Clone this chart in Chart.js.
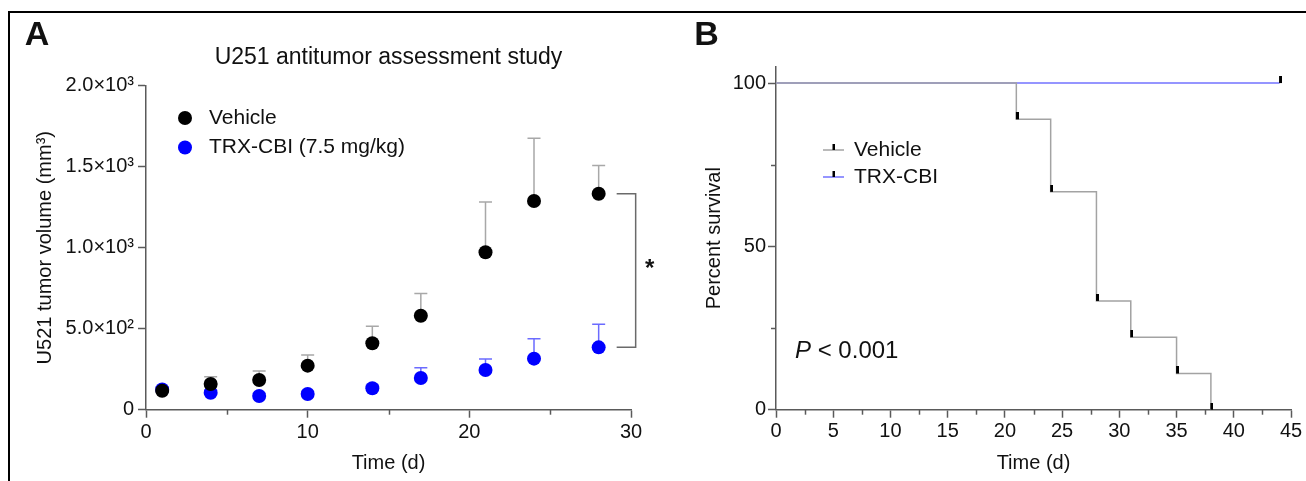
<!DOCTYPE html>
<html>
<head>
<meta charset="utf-8">
<script src="https://cdn.jsdelivr.net/npm/chart.js@4.4.1/dist/chart.umd.min.js"></script>
<style>
html,body{margin:0;padding:0;background:#fff;}
#wrap{position:relative;width:1306px;height:481px;overflow:hidden;background:#fff;}
#frame{position:absolute;left:8px;top:11px;width:1400px;height:600px;border-top:2px solid #000;border-left:2px solid #000;}
#ca{position:absolute;left:0;top:0;}
#cb{position:absolute;left:680px;top:0;}
</style>
</head>
<body>
<div id="wrap">
  <div id="frame"></div>
  <canvas id="ca" width="680" height="481"></canvas>
  <canvas id="cb" width="626" height="481"></canvas>
</div>
<script>
// ---------- Panel A data ----------
const days = [1, 4, 7, 10, 14, 17, 21, 24, 28];
const vehicleMean = [117, 159, 183, 272, 410, 580, 972, 1288, 1333];
const vehicleErr  = [20, 45, 56, 66, 105, 138, 310, 387, 175];
const trxMean = [125, 105, 85, 97, 132, 196, 245, 315, 385];
const trxErr  = [15, 15, 15, 15, 20, 63, 68, 123, 142];
const xTicksA = [0, 10, 20, 30];
const xMinorA = [5, 15, 25];
const yTicksA = [0, 500, 1000, 1500, 2000];
const yTickLabelsA = ['0', '5.0×10²', '1.0×10³', '1.5×10³', '2.0×10³'];

// ---------- Panel B data ----------
const survDaysVehicle = [0, 21, 24, 28, 31, 35, 38];
const survVehicle     = [100, 88.9, 66.7, 33.3, 22.2, 11.1, 0];
const survDaysTrx = [0, 44];
const survTrx     = [100, 100];
const xTicksB = [0, 5, 10, 15, 20, 25, 30, 35, 40, 45];
const xMinorB = [2.5, 7.5, 12.5, 17.5, 22.5, 27.5, 32.5, 37.5, 42.5];
const yTicksB = [0, 50, 100];
const yMinorB = [25, 75];

const FONT = "'Liberation Sans', Arial, Helvetica, sans-serif";
const AXIS = '#5a5a5a';
Chart.defaults.font.family = FONT;
Chart.defaults.color = '#111';

function toPts(xs, ys) { return xs.map((x, i) => ({x: x, y: ys[i]})); }

function censorMark() {
  const c = document.createElement('canvas');
  c.width = 5; c.height = 14;
  const g = c.getContext('2d');
  g.fillStyle = '#000';
  g.fillRect(2, 0, 3, 7);
  return c;
}
const MARK = censorMark();

// error bars (upper only, with cap)
const errorBars = {
  id: 'errorBars',
  beforeDatasetsDraw(chart) {
    const {ctx, scales: {x, y}} = chart;
    chart.data.datasets.forEach((ds) => {
      if (!ds.errors) return;
      ctx.save();
      ctx.strokeStyle = ds.errorColor;
      ctx.lineWidth = 1.5;
      ds.data.forEach((p, j) => {
        const px = x.getPixelForValue(p.x);
        const py = y.getPixelForValue(p.y);
        const pt = y.getPixelForValue(p.y + ds.errors[j]);
        ctx.beginPath();
        ctx.moveTo(px, py); ctx.lineTo(px, pt);
        ctx.moveTo(px - 6.5, pt); ctx.lineTo(px + 6.5, pt);
        ctx.stroke();
      });
      ctx.restore();
    });
  }
};

// minor ticks
const minorTicks = {
  id: 'minorTicks',
  afterDraw(chart, args, opts) {
    const ctx = chart.ctx;
    ctx.save();
    ctx.strokeStyle = AXIS; ctx.lineWidth = 1.5;
    const sx = chart.scales.x, sy = chart.scales.y;
    (opts.x || []).forEach(v => {
      const px = Math.round(sx.getPixelForValue(v)) + 0.5;
      ctx.beginPath(); ctx.moveTo(px, sx.top); ctx.lineTo(px, sx.top + 5); ctx.stroke();
    });
    (opts.y || []).forEach(v => {
      const py = Math.round(sy.getPixelForValue(v)) + 0.5;
      ctx.beginPath(); ctx.moveTo(sy.right, py); ctx.lineTo(sy.right - 5, py); ctx.stroke();
    });
    ctx.restore();
  }
};

// free text / decorations
const decor = {
  id: 'decor',
  afterDraw(chart, args, opts) {
    if (opts.draw) opts.draw(chart, chart.ctx);
  }
};

function txt(ctx, s, x, y, font, align, base) {
  ctx.save();
  ctx.font = font;
  ctx.fillStyle = '#111';
  ctx.textAlign = align || 'left';
  ctx.textBaseline = base || 'middle';
  ctx.fillText(s, x, y);
  ctx.restore();
}

// ---------- Chart A ----------
new Chart(document.getElementById('ca'), {
  type: 'scatter',
  data: {
    datasets: [
      {
        label: 'Vehicle',
        data: toPts(days, vehicleMean),
        errors: vehicleErr,
        errorColor: '#a8a8a8',
        backgroundColor: '#000',
        borderWidth: 0,
        pointRadius: 7,
        pointHoverRadius: 7
      },
      {
        label: 'TRX-CBI (7.5 mg/kg)',
        data: toPts(days, trxMean),
        errors: trxErr,
        errorColor: '#6b6bff',
        backgroundColor: '#0000ff',
        borderWidth: 0,
        pointRadius: 7,
        pointHoverRadius: 7
      }
    ]
  },
  options: {
    responsive: false,
    animation: false,
    events: [],
    layout: {padding: {left: 0, right: 49, top: 85.7, bottom: 0}},
    plugins: {
      legend: {display: false},
      tooltip: {enabled: false},
      minorTicks: {x: xMinorA},
      decor: {
        draw(chart, ctx) {
          const sx = chart.scales.x, sy = chart.scales.y;
          // panel letter
          txt(ctx, 'A', 37, 36, 'bold 34px ' + FONT, 'center');
          // title
          txt(ctx, 'U251 antitumor assessment study', (chart.chartArea.left + chart.chartArea.right) / 2, 58, '23px ' + FONT, 'center');
          // legend
          ctx.save();
          ctx.fillStyle = '#000';
          ctx.beginPath(); ctx.arc(185, 118, 7, 0, Math.PI * 2); ctx.fill();
          ctx.fillStyle = '#0000ff';
          ctx.beginPath(); ctx.arc(185, 147.5, 7, 0, Math.PI * 2); ctx.fill();
          ctx.restore();
          txt(ctx, 'Vehicle', 209, 118, '21px ' + FONT);
          txt(ctx, 'TRX-CBI (7.5 mg/kg)', 209, 147.5, '21px ' + FONT);
          // significance bracket
          const last = days.length - 1;
          const bx = sx.getPixelForValue(days[last]);
          const y1 = sy.getPixelForValue(vehicleMean[last]);
          const y2 = sy.getPixelForValue(trxMean[last]);
          ctx.save();
          ctx.strokeStyle = '#6a6a6a'; ctx.lineWidth = 1.5;
          ctx.beginPath();
          ctx.moveTo(bx + 18, y1); ctx.lineTo(bx + 37, y1); ctx.lineTo(bx + 37, y2); ctx.lineTo(bx + 18, y2);
          ctx.stroke();
          ctx.restore();
          txt(ctx, '*', bx + 51, (y1 + y2) / 2 - 1, 'bold 24px ' + FONT, 'center');
        }
      }
    },
    scales: {
      x: {
        type: 'linear', min: 0, max: 30,
        afterBuildTicks: s => { s.ticks = xTicksA.map(v => ({value: v})); },
        afterFit: s => { s.height = 481 - 409.7; },
        grid: {display: true, drawOnChartArea: false, tickLength: 8, tickColor: AXIS, tickWidth: 1.5},
        border: {display: true, color: AXIS, width: 1.5},
        ticks: {padding: 3, font: {size: 20}, color: '#111', maxRotation: 0},
        title: {display: true, text: 'Time (d)', font: {size: 20}, color: '#111', padding: {top: 0, bottom: 6}}
      },
      y: {
        type: 'linear', min: 0, max: 2000,
        afterBuildTicks: s => { s.ticks = yTicksA.map(v => ({value: v})); },
        afterFit: s => { s.width = 146; },
        grid: {display: true, drawOnChartArea: false, tickLength: 8, tickColor: AXIS, tickWidth: 1.5},
        border: {display: true, color: AXIS, width: 1.5},
        ticks: {padding: 4, font: {size: 20}, color: '#111',
          callback: (v) => { const i = yTicksA.indexOf(v); return i >= 0 ? yTickLabelsA[i] : ''; }},
        title: {display: true, text: 'U521 tumor volume (mm³)', font: {size: 20}, color: '#111', padding: {top: 33, bottom: 0}}
      }
    }
  },
  plugins: [errorBars, minorTicks, decor]
});

// ---------- Chart B ----------
const censorRadius = (ctx) => (ctx.dataIndex === 0 ? 0 : 3);
new Chart(document.getElementById('cb'), {
  type: 'scatter',
  data: {
    datasets: [
      {
        label: 'Vehicle',
        data: toPts(survDaysVehicle, survVehicle),
        showLine: true,
        stepped: true,
        borderColor: '#a3a3a3',
        borderWidth: 1.5,
        pointStyle: MARK,
        pointRadius: censorRadius,
        pointHoverRadius: censorRadius,
        clip: 10
      },
      {
        label: 'TRX-CBI',
        data: toPts(survDaysTrx, survTrx),
        showLine: true,
        stepped: true,
        borderColor: '#7272ff',
        borderWidth: 1.5,
        pointStyle: MARK,
        pointRadius: censorRadius,
        pointHoverRadius: censorRadius,
        clip: 10
      }
    ]
  },
  options: {
    responsive: false,
    animation: false,
    events: [],
    layout: {padding: {left: 0, right: 15, top: 66.7, bottom: 0}},
    plugins: {
      legend: {display: false},
      tooltip: {enabled: false},
      minorTicks: {x: xMinorB, y: yMinorB},
      decor: {
        draw(chart, ctx) {
          txt(ctx, 'B', 26.5, 36, 'bold 34px ' + FONT, 'center');
          // legend
          const items = [['Vehicle', '#a3a3a3', 150], ['TRX-CBI', '#7272ff', 177]];
          items.forEach(([label, col, y]) => {
            ctx.save();
            ctx.strokeStyle = col; ctx.lineWidth = 1.5;
            ctx.beginPath(); ctx.moveTo(143, y); ctx.lineTo(164, y); ctx.stroke();
            ctx.fillStyle = '#000';
            ctx.fillRect(152.5, y - 6, 2.5, 6);
            ctx.restore();
            txt(ctx, label, 174, y, '21px ' + FONT);
          });
          // p value
          ctx.save();
          ctx.font = 'italic 24px ' + FONT;
          ctx.fillStyle = '#111';
          ctx.textBaseline = 'middle';
          ctx.fillText('P', 115, 351);
          const w = ctx.measureText('P').width;
          ctx.font = '24px ' + FONT;
          ctx.fillText(' < 0.001', 115 + w, 351);
          ctx.restore();
        }
      }
    },
    scales: {
      x: {
        type: 'linear', min: 0, max: 45,
        afterBuildTicks: s => { s.ticks = xTicksB.map(v => ({value: v})); },
        afterFit: s => { s.height = 481 - 409.7; },
        grid: {display: true, drawOnChartArea: false, tickLength: 8, tickColor: AXIS, tickWidth: 1.5},
        border: {display: true, color: AXIS, width: 1.5},
        ticks: {padding: 2, font: {size: 20}, color: '#111', maxRotation: 0, autoSkip: false},
        title: {display: true, text: 'Time (d)', font: {size: 20}, color: '#111', padding: {top: 0, bottom: 6}}
      },
      y: {
        type: 'linear', min: 0, max: 105,
        afterBuildTicks: s => { s.ticks = yTicksB.map(v => ({value: v})); },
        afterFit: s => { s.width = 96; },
        grid: {display: true, drawOnChartArea: false, tickLength: 8, tickColor: AXIS, tickWidth: 1.5},
        border: {display: true, color: AXIS, width: 1.5},
        ticks: {padding: 2, font: {size: 20}, color: '#111'},
        title: {display: true, text: 'Percent survival', font: {size: 20}, color: '#111', padding: {top: 22, bottom: 0}}
      }
    }
  },
  plugins: [minorTicks, decor]
});
</script>
</body>
</html>
